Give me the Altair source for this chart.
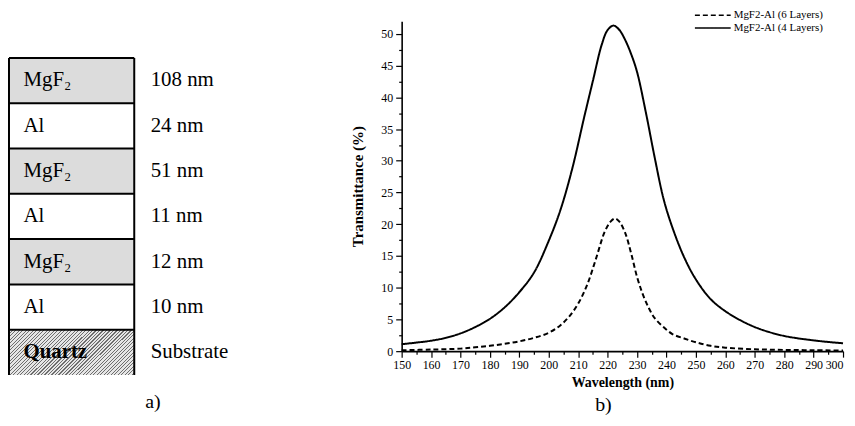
import altair as alt
import pandas as pd

# ---------------- panel a) : layer stack ----------------
materials = ["MgF₂", "Al", "MgF₂", "Al", "MgF₂", "Al", "Quartz"]
thicknesses = ["108 nm", "24 nm", "51 nm", "11 nm", "12 nm", "10 nm", "Substrate"]
row_index = [0, 1, 2, 3, 4, 5, 6]

# ---------------- panel b) : transmittance spectra ----------------
series_names = ["MgF2-Al (6 Layers)", "MgF2-Al (4 Layers)"]

wl_4 = [150, 155, 160, 165, 170, 175, 180, 185, 190, 195, 200, 204, 208, 212, 215,
        218, 220, 222, 224, 226, 228, 230, 233, 236, 239, 242, 246, 250, 255, 260,
        265, 270, 275, 280, 285, 290, 295, 300]
tr_4 = [1.1, 1.35, 1.65, 2.1, 2.8, 3.8, 5.1, 6.9, 9.3, 12.4, 17.4, 22.3, 28.8, 36.8, 42.6,
        48.3, 50.6, 51.3, 50.6, 49.0, 46.8, 44.0, 37.6, 30.5, 24.0, 19.5, 14.8, 11.3, 8.2, 6.3,
        4.9, 3.8, 3.0, 2.4, 2.0, 1.7, 1.45, 1.25]

wl_6 = [150, 160, 170, 175, 180, 185, 190, 195, 200, 204, 207, 210, 213, 216, 219,
        221, 222.5, 224, 226, 228, 230, 232, 234, 236, 239, 242, 246, 250, 255, 260,
        270, 280, 290, 300]
tr_6 = [0.15, 0.25, 0.4, 0.6, 0.85, 1.15, 1.55, 2.1, 2.9, 4.1, 5.5, 7.5, 10.4, 14.5, 18.8,
        20.4, 20.9, 20.4, 18.6, 15.4, 11.7, 8.9, 6.8, 5.2, 3.8, 2.7, 2.0, 1.4, 0.85, 0.55,
        0.3, 0.2, 0.15, 0.1]

x_major = list(range(150, 301, 10))
x_minor = list(range(155, 300, 10))
y_major = list(range(0, 51, 5))
y_minor = [2.5, 7.5, 12.5, 17.5, 22.5, 27.5, 32.5, 37.5, 42.5, 47.5]

SERIF = "Liberation Serif"

stack = pd.DataFrame({"material": materials, "thickness": thicknesses, "row": row_index})
spec = pd.concat([
    pd.DataFrame({"wl": wl_6, "tr": tr_6, "series": series_names[0]}),
    pd.DataFrame({"wl": wl_4, "tr": tr_4, "series": series_names[1]}),
], ignore_index=True)

# ---- hatch pattern for the quartz substrate (style only) ----
period = 0.0176
dark = 0.32
stops = []
k = 0
while k * period < 1.0:
    s = k * period
    stops.append(alt.GradientStop(color="#6e6e6e", offset=round(min(s, 1), 4)))
    stops.append(alt.GradientStop(color="#6e6e6e", offset=round(min(s + period * dark, 1), 4)))
    stops.append(alt.GradientStop(color="#e6e6e6", offset=round(min(s + period * dark, 1), 4)))
    stops.append(alt.GradientStop(color="#e6e6e6", offset=round(min(s + period, 1), 4)))
    k += 1
hatch = alt.LinearGradient(gradient="linear", stops=stops, x1=0, y1=0, x2=1.4, y2=0.507)

ys = alt.Scale(domain=[-0.811, 7], reverse=True, nice=False, zero=False)
base_a = alt.Chart(stack).transform_calculate(
    top="datum.row", bot="datum.row + 1", mid="datum.row + 0.5"
)
Y_TOP = alt.Y("top:Q", scale=ys, axis=None)

cells = base_a.transform_filter("datum.material != 'Quartz'").mark_rect().encode(
    x=alt.value(0), x2=alt.value(126), y=Y_TOP, y2="bot:Q",
    fill=alt.Fill("material:N",
                  scale=alt.Scale(domain=["MgF₂", "Al"], range=["#dcdcdc", "#ffffff"]),
                  legend=None),
)
quartz = base_a.transform_filter("datum.material == 'Quartz'").mark_rect(fill=hatch).encode(
    x=alt.value(0), x2=alt.value(126), y=Y_TOP, y2="bot:Q",
)
hlines = base_a.mark_rule(color="black", strokeWidth=2).encode(
    x=alt.value(0), x2=alt.value(126), y=Y_TOP,
)
vleft = base_a.mark_rule(color="black", strokeWidth=2).encode(
    x=alt.value(0), y=alt.Y("min(top):Q", scale=ys, axis=None), y2="max(bot):Q",
)
vright = base_a.mark_rule(color="black", strokeWidth=2).encode(
    x=alt.value(126), y=alt.Y("min(top):Q", scale=ys, axis=None), y2="max(bot):Q",
)
mat_text = base_a.transform_filter("datum.material != 'Quartz'").mark_text(
    align="left", baseline="middle", font=SERIF, fontSize=21, color="black"
).encode(x=alt.value(14.5), y=alt.Y("mid:Q", scale=ys, axis=None), text="material:N")
quartz_text = base_a.transform_filter("datum.material == 'Quartz'").mark_text(
    align="left", baseline="middle", font=SERIF, fontSize=21, fontWeight="bold", color="black"
).encode(x=alt.value(14.5), y=alt.Y("mid:Q", scale=ys, axis=None), text="material:N")
thick_text = base_a.mark_text(
    align="left", baseline="middle", font=SERIF, fontSize=21, color="black"
).encode(x=alt.value(142.5), y=alt.Y("mid:Q", scale=ys, axis=None), text="thickness:N")
label_a = alt.Chart(pd.DataFrame({"label": ["a)"]})).mark_text(
    align="left", baseline="middle", font=SERIF, fontSize=20, color="black"
).encode(x=alt.value(137), y=alt.value(383), text="label:N")

panel_a = alt.layer(
    cells, quartz, hlines, vleft, vright, mat_text, quartz_text, thick_text, label_a
).properties(width=240, height=356)

# ---------------- panel b ----------------
xs = alt.Scale(domain=[150, 300], nice=False, zero=False)
yscale = alt.Scale(domain=[0, 52], nice=False, zero=False)

x_axis = alt.Axis(
    values=x_major, title="Wavelength (nm)", grid=False,
    labelFont=SERIF, labelFontSize=12, labelColor="black", labelPadding=2,
    labelAlign={"condition": {"test": "datum.value == 300", "value": "right"}, "value": "center"},
    labelOverlap=False, labelFlush=False,
    tickColor="black", tickSize=6, tickWidth=1.2,
    domainColor="black", domainWidth=1.6,
    titleFont=SERIF, titleFontSize=14, titleFontWeight="bold", titleColor="black", titlePadding=6,
)
y_axis = alt.Axis(
    values=y_major, title="Transmittance (%)", grid=False,
    labelFont=SERIF, labelFontSize=12, labelColor="black", labelPadding=3,
    labelOverlap=False,
    tickColor="black", tickSize=6, tickWidth=1.2,
    domainColor="black", domainWidth=1.6,
    titleFont=SERIF, titleFontSize=15, titleFontWeight="bold", titleColor="black", titlePadding=15,
)

lines = alt.Chart(spec).mark_line(color="black", strokeWidth=2, interpolate="catmull-rom").encode(
    x=alt.X("wl:Q", scale=xs, axis=x_axis),
    y=alt.Y("tr:Q", scale=yscale, axis=y_axis),
    strokeDash=alt.StrokeDash(
        "series:N",
        scale=alt.Scale(domain=series_names, range=[[5, 3], [1, 0]]),
        legend=alt.Legend(
            title=None, orient="none", legendX=702, legendY=-12, padding=0,
            symbolType="M-3.6,0H3.6", symbolSize=100, symbolStrokeColor="black",
            symbolStrokeWidth=1.5, symbolFillColor="transparent",
            labelFont=SERIF, labelFontSize=11, labelColor="black", labelOffset=15,
            rowPadding=2,
        ),
    ),
)
minor = alt.Chart(spec).mark_point(opacity=0).encode(
    x=alt.X("wl:Q", axis=alt.Axis(values=x_minor, orient="bottom", labels=False, domain=False,
                                  tickSize=3, tickColor="black", tickWidth=1.2, title=None, grid=False)),
    y=alt.Y("tr:Q", axis=alt.Axis(values=y_minor, orient="left", labels=False, domain=False,
                                  tickSize=3, tickColor="black", tickWidth=1.2, title=None, grid=False)),
)
label_b = alt.Chart(pd.DataFrame({"label": ["b)"]})).mark_text(
    align="center", baseline="middle", font=SERIF, fontSize=20, color="black"
).encode(x=alt.value(203), y=alt.value(386), text="label:N")

panel_b = alt.layer(lines, minor, label_b).resolve_axis(
    x="independent", y="independent"
).properties(width=444, height=332)

chart = alt.hconcat(panel_a, panel_b, spacing=104, padding=0, background="white").configure_view(
    stroke=None
)

chart.save("out.html", embed_options={"renderer": "svg", "actions": False})
